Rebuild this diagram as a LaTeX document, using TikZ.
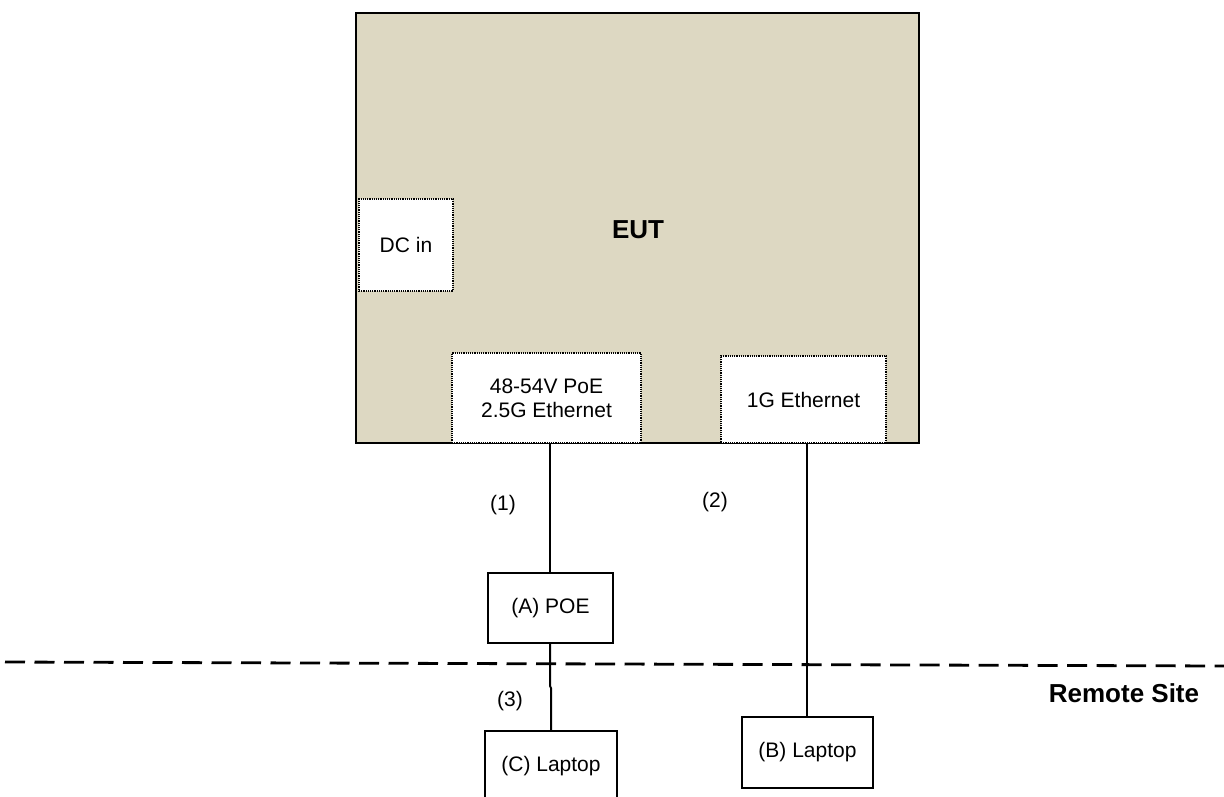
\documentclass[tikz,border=0pt]{standalone}
\usepackage{fontspec}
\setmainfont{Liberation Sans}
\definecolor{eutfill}{HTML}{DDD8C2}
\begin{document}
\begin{tikzpicture}[x=1pt,y=-1pt,
  port/.style={draw=black,densely dotted,line width=1.2pt,fill=white,inner sep=0pt,font=\fontsize{21}{24}\selectfont,align=center},
  dev/.style={draw=black,line width=2pt,fill=white,inner sep=0pt,font=\fontsize{21}{24}\selectfont},
  wire/.style={line width=2pt},
  lbl/.style={font=\fontsize{21}{24}\selectfont}]
\useasboundingbox (0,0) rectangle (1224,796);
\node[draw=black,line width=2.4pt,fill=eutfill,minimum width=563pt,minimum height=430pt,inner sep=0pt] (eut) at (637.5,228) {};
\node[font=\bfseries\fontsize{26}{30}\selectfont] (euttxt) at (638,229.5) {EUT};
\node[port,minimum width=94pt,minimum height=92pt] (dc) at (406,245) {DC in};
\node[port,minimum width=189pt,minimum height=90pt] (poe) at (546.5,398) {48-54V PoE\\2.5G Ethernet};
\node[port,minimum width=165pt,minimum height=87pt] (ge) at (803.5,399.5) {1G Ethernet};
\node[dev,minimum width=125pt,minimum height=70pt] (A) at (550.5,608) {(A) POE};
\node[dev,minimum width=132pt,minimum height=70pt] (C) at (551,766) {(C) Laptop};
\node[dev,minimum width=131pt,minimum height=71pt] (B) at (807.5,752.5) {(B) Laptop};
\draw[line width=2.8pt,dash pattern=on 20pt off 9.5pt] (5,662) coordinate (dl) -- (1224,666) coordinate (dr);
\draw[wire] (550,443) -- (A.north -| 550,0);
\draw[wire] (807,443) -- (B.north -| 807,0);
\coordinate (bend) at (551,688);
\draw[wire] (A.south -| 550,0) -- (550,686) -- (bend) -- (C.north -| 551,0);
\node[lbl] (l1) at (503,505) {(1)};
\node[lbl] (l2) at (715,502) {(2)};
\node[lbl] (l3) at (510,701) {(3)};
\node[font=\bfseries\fontsize{26}{30}\selectfont] (rs) at (1124,693) {Remote Site};
\end{tikzpicture}
\end{document}
